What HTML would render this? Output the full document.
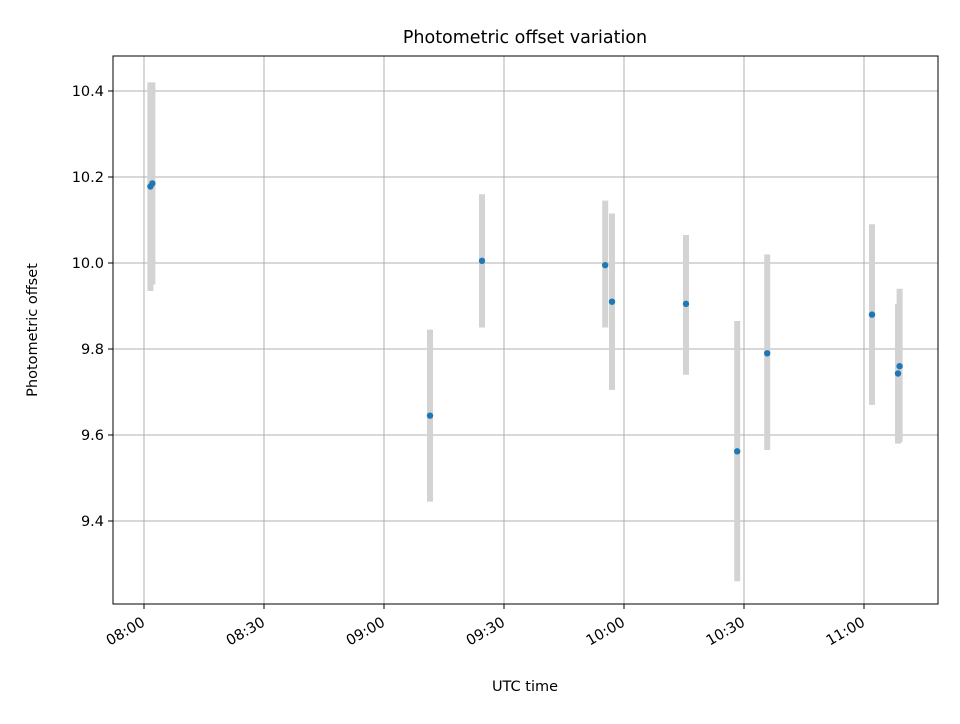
<!DOCTYPE html>
<html><head><meta charset="utf-8"><style>
body{margin:0;background:#fff;font-family:"DejaVu Sans","Liberation Sans",sans-serif;}
</style></head><body>
<svg id="chart" width="960" height="720" xmlns="http://www.w3.org/2000/svg" font-family="DejaVu Sans, Liberation Sans, sans-serif">
<g id="grid"></g>
<g id="errs"></g>
<g id="pts"></g>
<rect x="113" y="56" width="825" height="548" fill="none" stroke="#000" stroke-width="1"/>
<g id="ticks"></g>
<text x="525" y="43" text-anchor="middle" style="font-size:17.5px">Photometric offset variation</text>
<text x="525" y="691" text-anchor="middle" style="font-size:14.5px">UTC time</text>
<text transform="translate(37,330) rotate(-90)" text-anchor="middle" style="font-size:14.5px">Photometric offset</text>
</svg>
<script>
// time in minutes from 00:00 UTC
const times = [481.6, 482.1, 551.5, 564.5, 595.3, 597.0, 615.5, 628.3, 635.8, 662.0, 668.5, 668.9];
const offsets = [10.178, 10.185, 9.645, 10.005, 9.995, 9.91, 9.905, 9.562, 9.79, 9.88, 9.743, 9.76];
const errLow = [9.935, 9.95, 9.445, 9.85, 9.85, 9.705, 9.74, 9.26, 9.565, 9.67, 9.58, 9.583];
const errHigh = [10.42, 10.42, 9.845, 10.16, 10.145, 10.115, 10.065, 9.865, 10.02, 10.09, 9.905, 9.94];
const xTickVals = [480, 510, 540, 570, 600, 630, 660];
const xTickLabels = ["08:00","08:30","09:00","09:30","10:00","10:30","11:00"];
const yTickVals = [9.4, 9.6, 9.8, 10.0, 10.2, 10.4];
const yTickLabels = ["9.4","9.6","9.8","10.0","10.2","10.4"];

const X = t => 144 + (t - 480) * 4;
const Y = v => 263 - (v - 10.0) * 430;
const NS = "http://www.w3.org/2000/svg";
function mk(tag, attrs, parent){const e=document.createElementNS(NS,tag);for(const k in attrs)e.setAttribute(k,attrs[k]);parent.appendChild(e);return e;}
const grid=document.getElementById('grid'), ticks=document.getElementById('ticks'), errs=document.getElementById('errs'), pts=document.getElementById('pts');

xTickVals.forEach((t,i)=>{
  const x=X(t);
  const g=mk('line',{x1:x,x2:x,y1:56,y2:604,stroke:'#b0b0b0','stroke-width':1},grid);
  
  
  const tk=mk('line',{x1:x,x2:x,y1:604,y2:609,stroke:'#000','stroke-width':1},ticks);
  
  
  const ax=x+2, ay=625;
  const lb=mk('text',{x:ax,y:ay,style:'font-size:14.5px','text-anchor':'end',transform:`rotate(-30 ${ax} ${ay})`},ticks);
  lb.textContent=xTickLabels[i];
  
  
});
yTickVals.forEach((v,i)=>{
  const y=Y(v);
  const g=mk('line',{x1:113,x2:938,y1:y,y2:y,stroke:'#b0b0b0','stroke-width':1},grid);
  
  
  const tk=mk('line',{x1:108,x2:113,y1:y,y2:y,stroke:'#000','stroke-width':1},ticks);
  
  
  const lb=mk('text',{x:104,y:y+5,style:'font-size:14.5px','text-anchor':'end'},ticks);
  lb.textContent=yTickLabels[i];
  
  
});
times.forEach((t,i)=>{
  const x=X(t);
  const e=mk('line',{x1:x,x2:x,y1:Y(errHigh[i]),y2:Y(errLow[i]),stroke:'#d3d3d3','stroke-width':6},errs);
  
  
  const p=mk('circle',{cx:x,cy:Y(offsets[i]),r:3.2,fill:'#1f77b4'},pts);
  
  
});
</script>
</body></html>
